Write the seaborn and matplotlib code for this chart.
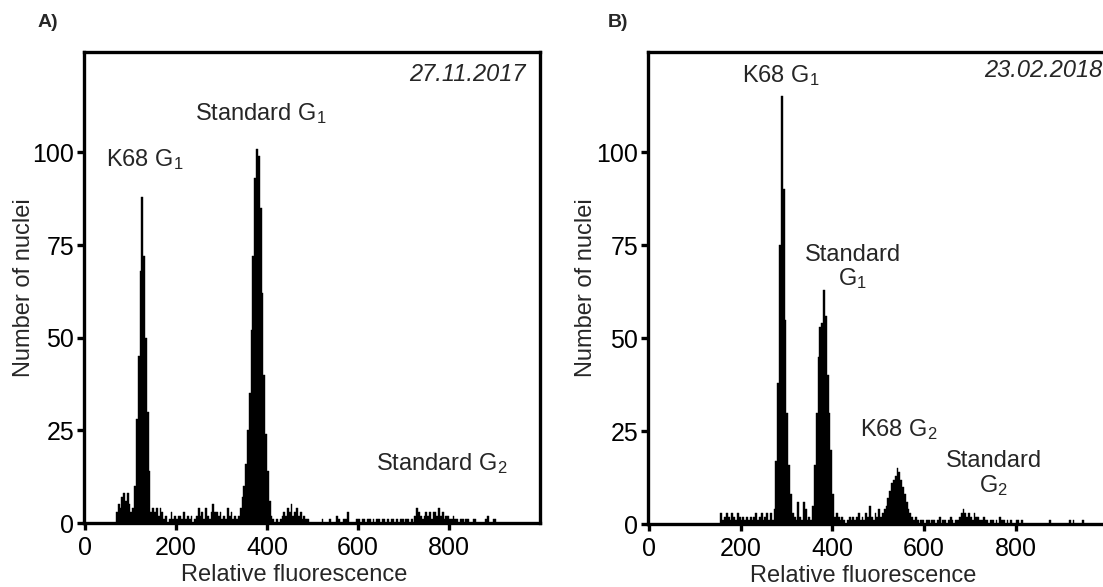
import numpy as np
import pandas as pd
import matplotlib
matplotlib.use("Agg")
import matplotlib.pyplot as plt
from matplotlib import font_manager
import seaborn as sns

# ---------------- data ----------------
bin_width = 4
# Panel A: 27.11.2017, first channel of histogram
a_first_channel = 68
a_counts = (
    [3, 5, 4, 7, 8, 6, 8, 5, 3]                                   # 68-100
    + [4, 10, 28, 45, 68, 88, 72, 50, 30, 14, 3]                  # K68 G1
    + [4, 3, 4, 2, 4, 3, 1, 2, 0, 1,
       3, 1, 2, 1, 2, 2, 1, 3, 1, 2,
       1, 2, 0, 1, 2, 4, 2, 3, 1, 4,
       2, 1, 3, 5, 3, 3, 2, 3, 1, 2,
       1, 4, 2, 3, 1, 2, 1, 2]                                    # 148-336
    + [4, 7, 10, 16, 25, 35, 52, 72, 93, 101, 99, 85, 62, 40, 24, 14, 6, 2]  # Standard G1
    + [1, 0, 1, 0, 1]                                             # 412-428
    + [2, 3, 2, 4, 3, 5, 2, 3, 4, 2, 3, 1, 2, 1, 1]               # 432-488
    + [0, 0, 0, 0, 0, 0, 0, 1, 0, 0,
       0, 1, 0, 0, 0, 2, 1, 0, 0, 1,
       1, 3, 0, 0, 0, 0, 1, 1, 0, 1,
       1, 0, 1, 1, 0, 1, 0, 1, 1, 0,
       1, 1, 0, 1, 0, 1, 1, 0, 1, 0,
       1, 1, 0, 1, 1, 0, 1, 0]                                    # 492-720
    + [2, 4, 3, 2, 1, 2, 3, 2, 3, 1,
       3, 3, 2, 4, 2, 3, 1, 2, 2, 1, 1, 2, 1, 1]                  # Standard G2
    + [0, 1, 1, 0, 1, 1, 0, 0, 1, 1,
       0, 0, 0, 0, 0, 1, 2, 0, 0, 1, 1, 0, 0]                     # 820-908
)

# Panel B: 23.02.2018
b_first_channel = 156
b_counts = (
    [3, 1, 2, 3, 2, 1, 3, 2, 1, 3,
     2, 1, 2, 1, 2, 1, 2, 1, 2, 3,
     1, 2, 3, 1, 2, 3, 1, 3, 1]                                   # 156-268
    + [4, 17, 38, 75, 115, 90, 55, 30, 16, 8, 3]                  # K68 G1
    + [2, 1, 6, 2, 1, 6, 4, 1, 2, 1]                              # 316-352
    + [5, 16, 30, 45, 53, 54, 63, 56, 40, 30, 20, 8, 2]           # Standard G1
    + [3, 2, 1, 2, 1, 0, 1, 2, 1, 2,
       1, 2, 3, 1, 2, 1, 3, 2, 5, 2,
       1, 3, 2, 4, 2, 3]                                          # 408-508
    + [4, 5, 7, 9, 11, 12, 13, 15, 14, 12, 10, 8, 6, 4, 3, 2]     # K68 G2
    + [1, 2, 1, 0, 1, 1, 0, 1, 1, 0,
       1, 1, 0, 1, 2, 0, 1, 1, 0, 1,
       2, 1, 0, 1, 1, 2]                                          # 576-676
    + [3, 4, 3, 2, 3, 2, 1, 3, 2, 2, 1, 1, 2, 1]                  # Standard G2
    + [1, 0, 1, 1, 0, 1, 0, 2, 1, 1,
       0, 1, 0, 1, 0, 0, 1, 1, 0, 1,
       0, 0, 0, 0, 0, 0, 0, 0, 0, 0,
       0, 0, 0, 0, 1, 0, 0, 0, 0, 0,
       0, 0, 0, 0, 0, 1, 0, 1, 0, 0,
       0, 0, 1, 0, 0, 0, 0, 0, 0, 0,
       0, 0, 0, 0, 1, 0]                                          # 736-996
)

x_ticks = [0, 200, 400, 600, 800]
y_ticks = [0, 25, 50, 75, 100]
panel_letters = ["A)", "B)"]
dates = ["27.11.2017", "23.02.2018"]
x_label = "Relative fluorescence"
y_label = "Number of nuclei"

# ---------------- style ----------------
sns.set_style("ticks")
def has_font(name):
    try:
        font_manager.findfont(name, fallback_to_default=False)
        return True
    except Exception:
        return False

main_font = "Liberation Sans" if has_font("Liberation Sans") else "DejaVu Sans"
narrow = has_font("Liberation Sans Narrow")
tick_font = "Liberation Sans Narrow" if narrow else main_font
tick_size = 20 if narrow else 18
plt.rcParams["font.family"] = [main_font, "DejaVu Sans"]
plt.rcParams["mathtext.fontset"] = "custom"
plt.rcParams["mathtext.rm"] = main_font
plt.rcParams["mathtext.it"] = main_font + ":italic"

fig = plt.figure(figsize=(11.03, 5.87), dpi=100)
axA = fig.add_axes([0.0762, 0.109, 0.4134, 0.802])
axB = fig.add_axes([0.5875, 0.107, 0.4165, 0.805])


def draw(ax, first, counts):
    counts = np.asarray(counts, dtype=float)
    starts = first + bin_width * np.arange(len(counts))
    edges = np.append(starts, starts[-1] + bin_width)
    df = pd.DataFrame({"channel": starts + bin_width / 2, "count": counts})
    sns.histplot(data=df, x="channel", weights="count", bins=list(edges), ax=ax,
                 color="black", alpha=1, element="bars", fill=True,
                 edgecolor="black", linewidth=0.3)
    ax.set_xlim(-2, 1000)
    ax.set_ylim(0, 127)
    ax.set_xticks(x_ticks)
    ax.set_yticks(y_ticks)
    for s in ax.spines.values():
        s.set_visible(True)
        s.set_linewidth(2.4)
        s.set_color("black")
    ax.tick_params(axis="both", direction="out", length=5, width=2.4,
                   colors="black", labelsize=tick_size)
    ax.tick_params(axis="x", pad=4)
    ax.tick_params(axis="y", pad=2)
    for lab in ax.get_xticklabels() + ax.get_yticklabels():
        lab.set_family(tick_font)
    ax.set_xlabel(x_label, fontsize=17)
    ax.set_ylabel(y_label, fontsize=17)
    ax.grid(False)


draw(axA, a_first_channel, a_counts)
draw(axB, b_first_channel, b_counts)

axA.yaxis.set_label_coords(-0.108, 0.5)
axB.yaxis.set_label_coords(-0.110, 0.5)
axA.xaxis.set_label_coords(0.46, -0.086)
axB.xaxis.set_label_coords(0.468, -0.086)

fs = 17
# Panel A annotations
axA.text(131, 98, "K68 G$_1$", ha="center", va="center", fontsize=fs)
axA.text(386, 110.5, "Standard G$_1$", ha="center", va="center", fontsize=fs)
axA.text(785, 16, "Standard G$_2$", ha="center", va="center", fontsize=fs)
axA.text(969, 121, dates[0], ha="right", va="center", fontsize=fs, style="italic")

# Panel B annotations
axB.text(288, 120.5, "K68 G$_1$", ha="center", va="center", fontsize=fs)
axB.text(445, 69, "Standard\nG$_1$", ha="center", va="center", fontsize=fs,
         linespacing=1.05)
axB.text(544, 25.5, "K68 G$_2$", ha="center", va="center", fontsize=fs)
axB.text(752, 13.4, "Standard\nG$_2$", ha="center", va="center", fontsize=fs,
         linespacing=1.05)
axB.text(989, 122, dates[1], ha="right", va="center", fontsize=fs, style="italic")

fig.text(0.034, 0.962, panel_letters[0], fontsize=14, fontweight="bold",
         ha="left", va="center")
fig.text(0.551, 0.962, panel_letters[1], fontsize=14, fontweight="bold",
         ha="left", va="center")

fig.savefig("out.png", dpi=100)
